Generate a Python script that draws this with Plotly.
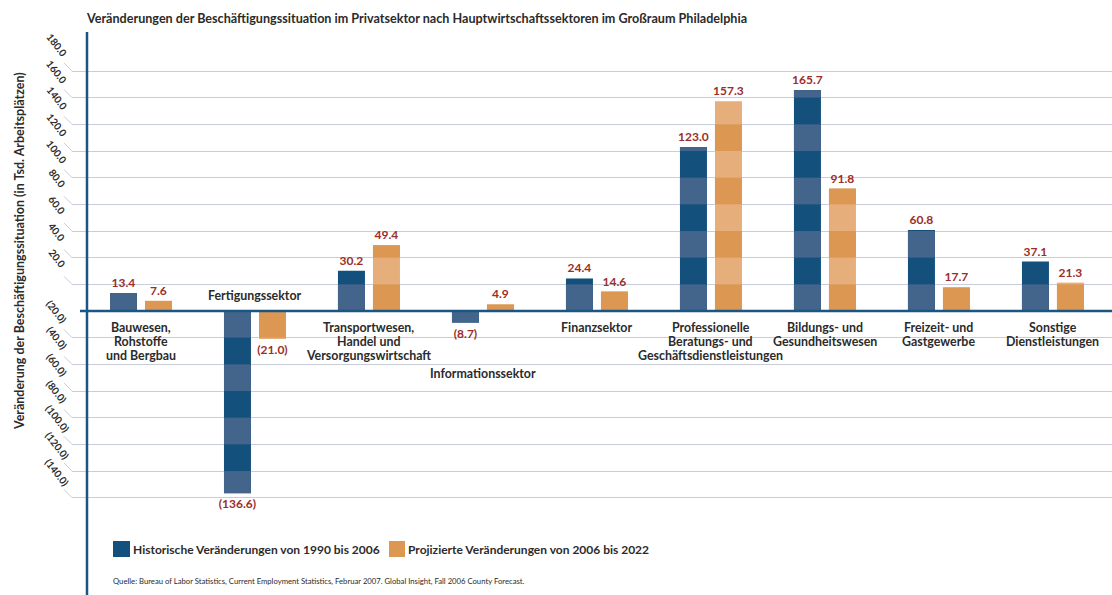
import plotly.graph_objects as go

# ---------------- data ----------------
categories = [
    "Bauwesen,<br>Rohstoffe<br>und Bergbau",
    "Fertigungssektor",
    "Transportwesen,<br>Handel und<br>Versorgungswirtschaft",
    "Informationssektor",
    "Finanzsektor",
    "Professionelle<br>Beratungs- und<br>Geschäftsdienstleistungen",
    "Bildungs- und<br>Gesundheitswesen",
    "Freizeit- und<br>Gastgewerbe",
    "Sonstige<br>Dienstleistungen",
]
historic = [13.4, -136.6, 30.2, -8.7, 24.4, 123.0, 165.7, 60.8, 37.1]
projected = [7.6, -21.0, 49.4, 4.9, 14.6, 157.3, 91.8, 17.7, 21.3]
series_names = ["Historische Veränderungen von 1990 bis 2006",
                "Projizierte Veränderungen von 2006 bis 2022"]
tick_values = [-140, -120, -100, -80, -60, -40, -20, 20, 40, 60, 80, 100, 120, 140, 160, 180]
title_text = "Veränderungen der Beschäftigungssituation im Privatsektor nach Hauptwirtschaftssektoren im Großraum Philadelphia"
y_title = "Veränderung der Beschäftigungssituation (in Tsd. Arbeitsplätzen)"
source_text = ("Quelle: Bureau of Labor Statistics, Current Employment Statistics, Februar 2007. "
               "Global Insight, Fall 2006 County Forecast.")
band_step = 20

# ---------------- styling ----------------
FONT = "Lato, Roboto, sans-serif"
BLUE_DARK = "#14507c"
BLUE_LIGHT = "#43648b"
OR_DARK = "#dc9853"
OR_LIGHT = "#e5ae7b"
RED = "#9b2d2a"
TXT = "#2b2b2b"
AXIS_BLUE = "#1b5582"
GRID = "#c9cdd9"

W, H = 1112, 595
L, R, T, B = 72, 0, 32, 0
PW, PH = W - L - R, H - T - B


def px_x(p):
    return (p - L) / PW


def px_y(p):
    return (H - B - p) / PH


def fmt(v):
    return f"({abs(v):.1f})" if v < 0 else f"{v:.1f}"


def bands(values, even):
    xs, bases, lens = [], [], []
    for i, v in enumerate(values):
        s = 1 if v >= 0 else -1
        k = 0
        while band_step * k < abs(v):
            if (k % 2 == 0) == even:
                lo = band_step * k
                hi = min(abs(v), band_step * (k + 1))
                xs.append(i)
                bases.append(lo if s > 0 else -hi)
                lens.append(hi - lo)
            k += 1
    return xs, bases, lens


bar_w = 27 / 114
offsets = [-31 / 114, 4 / 114]

fig = go.Figure()
idx = list(range(len(categories)))
for vals, off, base_col, band_col, name in [
    (historic, offsets[0], BLUE_DARK, BLUE_LIGHT, series_names[0]),
    (projected, offsets[1], OR_LIGHT, OR_DARK, series_names[1]),
]:
    fig.add_trace(go.Bar(
        x=idx, y=vals, name=name, width=bar_w, offset=off,
        marker=dict(color=base_col, line=dict(width=0)),
        text=[fmt(v) for v in vals], textposition="outside",
        constraintext="none", cliponaxis=False,
        textfont=dict(family=FONT, size=12, color=RED, weight="bold"),
        showlegend=False,
    ))
    bx, bb, bl = bands(vals, even=True)
    fig.add_trace(go.Bar(
        x=bx, y=bl, base=bb, width=bar_w, offset=off,
        marker=dict(color=band_col, line=dict(width=0)),
        showlegend=False, hoverinfo="skip",
    ))

shapes = []
annotations = []

# vertical axis line
shapes.append(dict(type="line", xref="paper", yref="paper",
                   x0=px_x(87), x1=px_x(87), y0=0, y1=1,
                   line=dict(color=AXIS_BLUE, width=2.5), layer="above"))
# zero line
shapes.append(dict(type="line", xref="paper", yref="y",
                   x0=px_x(80), x1=1, y0=0, y1=0,
                   line=dict(color=AXIS_BLUE, width=2.5), layer="above"))

# tick labels with leader lines
for v in tick_values:
    shapes.append(dict(type="line", xref="paper", yref="y",
                       x0=px_x(64), x1=px_x(72), y0=v + 6, y1=v,
                       line=dict(color=GRID, width=1)))
    annotations.append(dict(x=px_x(57), y=v, xref="paper", yref="y",
                            text=fmt(v), showarrow=False, textangle=52,
                            yshift=26, xanchor="center", yanchor="middle",
                            font=dict(family=FONT, size=10, color=TXT, weight="bold")))

# category labels (one annotation per line, 14 px line spacing)
label_start = {1: 16, 3: -62}
for i, c in enumerate(categories):
    start = label_start.get(i, -16)
    for j, line in enumerate(c.split("<br>")):
        annotations.append(dict(x=i, y=0, xref="x", yref="y", text=line, showarrow=False,
                                xanchor="center", yanchor="middle", yshift=start - 14 * j,
                                font=dict(family=FONT, size=12.4, color=TXT, weight="bold")))

# title
annotations.append(dict(x=px_x(84), y=px_y(18), xref="paper", yref="paper",
                        text=title_text, showarrow=False, xanchor="left", yanchor="middle",
                        font=dict(family=FONT, size=12.6, color=TXT, weight="bold")))
# y title
annotations.append(dict(x=px_x(19), y=px_y(251), xref="paper", yref="paper",
                        text=y_title, showarrow=False, textangle=-90,
                        xanchor="center", yanchor="middle",
                        font=dict(family=FONT, size=12.5, color=TXT, weight="bold")))
# legend
for (x0, x1, tx), col, name in [((113, 130, 131), BLUE_DARK, series_names[0]),
                               ((389, 405, 406), OR_DARK, series_names[1])]:
    shapes.append(dict(type="rect", xref="paper", yref="paper",
                       x0=px_x(x0), x1=px_x(x1), y0=px_y(557), y1=px_y(541),
                       fillcolor=col, line=dict(width=0)))
    annotations.append(dict(x=px_x(tx), y=px_y(549), xref="paper", yref="paper",
                            text=name, showarrow=False, xanchor="left", yanchor="middle",
                            font=dict(family=FONT, size=12, color=TXT, weight="bold")))
# source
annotations.append(dict(x=px_x(111), y=px_y(581), xref="paper", yref="paper",
                        text=source_text, showarrow=False, xanchor="left", yanchor="middle",
                        font=dict(family=FONT, size=7.7, color=TXT)))

px_per_unit = 80 / 60
y_top = (311 - T) / px_per_unit
y_bot = -(H - B - 311) / px_per_unit

fig.update_layout(
    width=W, height=H,
    margin=dict(l=L, r=R, t=T, b=B),
    paper_bgcolor="white", plot_bgcolor="white",
    barmode="overlay",
    xaxis=dict(type="linear", range=[-0.605, 8.518], showticklabels=False,
               showgrid=False, zeroline=False, showline=False, ticks=""),
    yaxis=dict(range=[y_bot, y_top], tickvals=tick_values, showticklabels=False,
               showgrid=True, gridcolor=GRID, gridwidth=1.2,
               zeroline=False, showline=False, ticks=""),
    shapes=shapes, annotations=annotations,
    font=dict(family=FONT, color=TXT),
)

fig.write_html("out.html", config={"displayModeBar": False},
               post_script="document.body.style.margin='0';document.body.style.overflow='hidden';")
